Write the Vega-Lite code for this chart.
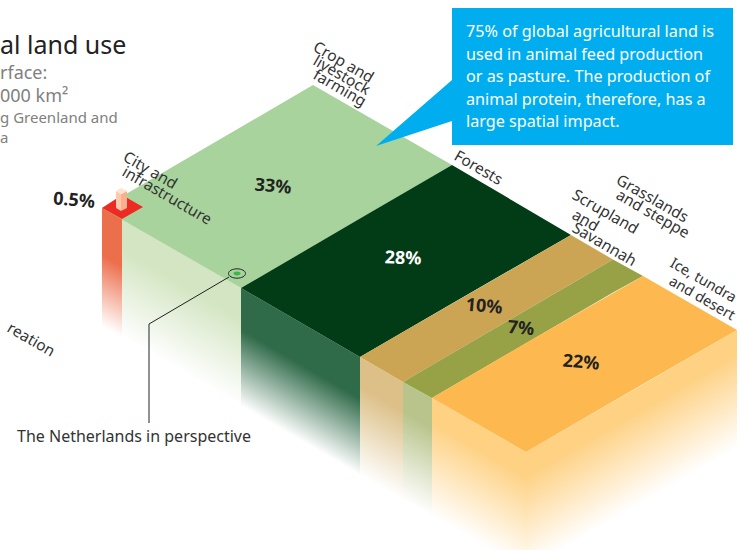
{
"$schema":"https://vega.github.io/schema/vega-lite/v6.json",
"width":741,"height":550,"padding":0,"autosize":{"type":"none"},
"background":"white",
"config":{"view":{"stroke":null}},
"datasets":{
"tops":[
{"part":"Crop and livestock farming","x":102,"y":208,"y2":208},
{"part":"Crop and livestock farming","x":241,"y":127,"y2":288},
{"part":"Crop and livestock farming","x":313,"y":85,"y2":246},
{"part":"Crop and livestock farming","x":452,"y":165,"y2":165},
{"part":"Forests","x":241,"y":288,"y2":288},
{"part":"Forests","x":360,"y":218.6,"y2":357},
{"part":"Forests","x":452,"y":165,"y2":303.4},
{"part":"Forests","x":571,"y":235,"y2":235},
{"part":"Scrupland and Savannah","x":360,"y":357,"y2":357},
{"part":"Scrupland and Savannah","x":403,"y":332,"y2":382},
{"part":"Scrupland and Savannah","x":571,"y":235,"y2":284},
{"part":"Scrupland and Savannah","x":613,"y":259.5,"y2":259.5},
{"part":"Grasslands and steppe","x":403,"y":382,"y2":382},
{"part":"Grasslands and steppe","x":432,"y":365,"y2":398},
{"part":"Grasslands and steppe","x":613,"y":259.5,"y2":292.5},
{"part":"Grasslands and steppe","x":643,"y":276,"y2":276},
{"part":"Ice, tundra and desert","x":432,"y":398,"y2":398},
{"part":"Ice, tundra and desert","x":526,"y":343,"y2":452},
{"part":"Ice, tundra and desert","x":643,"y":276,"y2":384},
{"part":"Ice, tundra and desert","x":737,"y":330,"y2":330},
{"part":"City and infrastructure","x":102,"y":208,"y2":208},
{"part":"City and infrastructure","x":122,"y":195,"y2":219},
{"part":"City and infrastructure","x":143,"y":207,"y2":207},
{"part":"Building left","x":116,"y":191,"y2":208},
{"part":"Building left","x":121,"y":194,"y2":211},
{"part":"Building right","x":121,"y":194,"y2":211},
{"part":"Building right","x":127,"y":191,"y2":208},
{"part":"Building roof","x":116,"y":191,"y2":191},
{"part":"Building roof","x":121,"y":188,"y2":194},
{"part":"Building roof","x":127,"y":191,"y2":191}
],
"sides":[
{"part":"City","x":102,"y":208,"y2":326},
{"part":"City","x":122,"y":219,"y2":337},
{"part":"Crop","x":122,"y":219,"y2":337},
{"part":"Crop","x":241,"y":288,"y2":406},
{"part":"Forests","x":241,"y":288,"y2":406},
{"part":"Forests","x":360,"y":357,"y2":475},
{"part":"Scrub","x":360,"y":357,"y2":475},
{"part":"Scrub","x":403,"y":382,"y2":500},
{"part":"Grass","x":403,"y":382,"y2":500},
{"part":"Grass","x":432,"y":398,"y2":516},
{"part":"IceLeft","x":432,"y":398,"y2":516},
{"part":"IceLeft","x":526,"y":452,"y2":570},
{"part":"IceRight","x":526,"y":452,"y2":570},
{"part":"IceRight","x":737,"y":330,"y2":448}
],
"bubble":[
{"x":376,"y":146,"y2":146},
{"x":452,"y":80,"y2":121},
{"x":452,"y":8,"y2":145},
{"x":733,"y":8,"y2":145}
],
"leader":[
{"step":1,"x":229,"y":277},
{"step":2,"x":149,"y":324},
{"step":3,"x":149,"y":423}
],
"marker":[{"x":237,"y":273.5}],
"titleA":[{"x":0,"y":54,"t":"al land use"}],
"titleB":[{"x":0,"y":79,"t":"rface:"},{"x":0,"y":102,"t":"000 km²"}],
"titleC":[{"x":0,"y":123,"t":"g Greenland and"},{"x":0,"y":143,"t":"a"}],
"bubbleText":[
{"x":466,"y":37,"t":"75% of global agricultural land is"},
{"x":466,"y":60,"t":"used in animal feed production"},
{"x":466,"y":82,"t":"or as pasture. The production of"},
{"x":466,"y":105,"t":"animal protein, therefore, has a"},
{"x":466,"y":127,"t":"large spatial impact."}
],
"labels":[
{"x":122,"y":160,"t":"City and"},
{"x":121,"y":175,"t":"infrastructure"},
{"x":312,"y":50,"t":"Crop and"},
{"x":312,"y":64,"t":"livestock"},
{"x":312,"y":78,"t":"farming"},
{"x":453,"y":159,"t":"Forests"},
{"x":615,"y":183,"t":"Grasslands"},
{"x":615,"y":198,"t":"and steppe"},
{"x":571,"y":198,"t":"Scrupland"},
{"x":571,"y":218,"t":"and"},
{"x":571,"y":231,"t":"Savannah"},
{"x":6,"y":331,"t":"reation"}
],
"labelsEdge":[
{"x":669,"y":266,"t":"Ice, tundra"},
{"x":668,"y":284,"t":"and desert"}
],
"shares":[
{"x":74,"y":201,"t":"0.5%"},
{"x":273,"y":187,"t":"33%"},
{"x":484,"y":307,"t":"10%"},
{"x":521,"y":329,"t":"7%"},
{"x":581,"y":363,"t":"22%"}
],
"sharesLight":[{"x":403,"y":259,"t":"28%"}],
"note":[{"x":17,"y":442,"t":"The Netherlands in perspective"}]
},
"encoding":{
"x":{"field":"x","type":"quantitative","scale":{"domain":[0,741],"nice":false,"zero":false},"axis":null},
"y":{"field":"y","type":"quantitative","stack":null,"scale":{"domain":[550,0],"nice":false,"zero":false},"axis":null}
},
"layer":[
{"data":{"name":"sides"},"transform":[{"filter":"datum.part==='City'"}],
 "mark":{"type":"area","clip":true,"color":{"gradient":"linear","x1":0,"y1":0,"x2":-0.077,"y2":0.909,"stops":[{"offset":0,"color":"#ec6f4c"},{"offset":0.4,"color":"#ec6f4c"},{"offset":1,"color":"#ffffff"}]}},
 "encoding":{"y2":{"field":"y2"}}},
{"data":{"name":"sides"},"transform":[{"filter":"datum.part==='Crop'"}],
 "mark":{"type":"area","clip":true,"color":{"gradient":"linear","x1":0,"y1":0,"x2":-0.205,"y2":0.555,"stops":[{"offset":0,"color":"#d3e5c2"},{"offset":0.25,"color":"#d3e5c2"},{"offset":1,"color":"#ffffff"}]}},
 "encoding":{"y2":{"field":"y2"}}},
{"data":{"name":"sides"},"transform":[{"filter":"datum.part==='Forests'"}],
 "mark":{"type":"area","clip":true,"color":{"gradient":"linear","x1":0,"y1":0,"x2":-0.205,"y2":0.555,"stops":[{"offset":0,"color":"#2f6a49"},{"offset":0.35,"color":"#2f6a49"},{"offset":1,"color":"#ffffff"}]}},
 "encoding":{"y2":{"field":"y2"}}},
{"data":{"name":"sides"},"transform":[{"filter":"datum.part==='Scrub'"}],
 "mark":{"type":"area","clip":true,"color":{"gradient":"linear","x1":0,"y1":0,"x2":-0.14,"y2":0.8,"stops":[{"offset":0,"color":"#dcc088"},{"offset":0.25,"color":"#dcc088"},{"offset":1,"color":"#ffffff"}]}},
 "encoding":{"y2":{"field":"y2"}}},
{"data":{"name":"sides"},"transform":[{"filter":"datum.part==='Grass'"}],
 "mark":{"type":"area","clip":true,"color":{"gradient":"linear","x1":0,"y1":0,"x2":-0.103,"y2":0.869,"stops":[{"offset":0,"color":"#b8c48c"},{"offset":0.25,"color":"#b8c48c"},{"offset":1,"color":"#ffffff"}]}},
 "encoding":{"y2":{"field":"y2"}}},
{"data":{"name":"sides"},"transform":[{"filter":"datum.part==='IceLeft'"}],
 "mark":{"type":"area","clip":true,"color":{"gradient":"linear","x1":0,"y1":0,"x2":-0.196,"y2":0.624,"stops":[{"offset":0,"color":"#fed183"},{"offset":0.2,"color":"#fed183"},{"offset":1,"color":"#ffffff"}]}},
 "encoding":{"y2":{"field":"y2"}}},
{"data":{"name":"sides"},"transform":[{"filter":"datum.part==='IceRight'"}],
 "mark":{"type":"area","clip":true,"color":{"gradient":"linear","x1":0,"y1":0.508,"x2":0.199,"y2":0.899,"stops":[{"offset":0,"color":"#fed183"},{"offset":0.2,"color":"#fed183"},{"offset":1,"color":"#ffffff"}]}},
 "encoding":{"y2":{"field":"y2"}}},
{"data":{"name":"tops"},
 "mark":{"type":"area"},
 "encoding":{"y2":{"field":"y2"},
  "color":{"field":"part","type":"nominal","legend":null,"sort":null,"scale":{
   "domain":["Crop and livestock farming","Forests","Scrupland and Savannah","Grasslands and steppe","Ice, tundra and desert","City and infrastructure","Building left","Building right","Building roof"],
   "range":["#a8d39c","#023c17","#cca554","#97a145","#fdb94f","#ee2a24","#fcc9ab","#f8b08e","#fde3d3"]}}}},
{"data":{"name":"bubble"},"mark":{"type":"area","color":"#00aeef"},"encoding":{"y2":{"field":"y2"}}},
{"data":{"name":"leader"},"mark":{"type":"line","color":"#222222","strokeWidth":1},"encoding":{"order":{"field":"step","type":"ordinal"}}},
{"data":{"name":"marker"},"mark":{"type":"point","filled":true,"fill":"#a8d39c","stroke":"#222222","strokeWidth":1,"opacity":1,"size":289,"shape":"M-1,0A1,0.55,0,1,1,1,0A1,0.55,0,1,1,-1,0Z"}},
{"data":{"name":"marker"},"mark":{"type":"point","filled":true,"fill":"#3cb54a","strokeWidth":0,"opacity":1,"size":49,"shape":"M-1,0A1,0.55,0,1,1,1,0A1,0.55,0,1,1,-1,0Z"}},
{"data":{"name":"titleA"},"mark":{"type":"text","align":"left","baseline":"alphabetic","font":"Noto Sans","fontSize":25,"color":"#222222"},"encoding":{"text":{"field":"t"}}},
{"data":{"name":"titleB"},"mark":{"type":"text","align":"left","baseline":"alphabetic","font":"Noto Sans","fontSize":18,"color":"#808080"},"encoding":{"text":{"field":"t"}}},
{"data":{"name":"titleC"},"mark":{"type":"text","align":"left","baseline":"alphabetic","font":"Noto Sans","fontSize":15,"color":"#808080"},"encoding":{"text":{"field":"t"}}},
{"data":{"name":"bubbleText"},"mark":{"type":"text","align":"left","baseline":"alphabetic","font":"Noto Sans","fontSize":16.2,"color":"#ffffff"},"encoding":{"text":{"field":"t"}}},
{"data":{"name":"labels"},"mark":{"type":"text","align":"left","baseline":"alphabetic","font":"Noto Sans","fontSize":15.5,"angle":30,"color":"#333333"},"encoding":{"text":{"field":"t"}}},
{"data":{"name":"labelsEdge"},"mark":{"type":"text","align":"left","baseline":"alphabetic","font":"Noto Sans","fontSize":14.5,"angle":30,"color":"#333333"},"encoding":{"text":{"field":"t"}}},
{"data":{"name":"shares"},"mark":{"type":"text","align":"center","baseline":"middle","font":"Noto Sans","fontWeight":"bold","fontSize":18,"angle":5,"color":"#222222"},"encoding":{"text":{"field":"t"}}},
{"data":{"name":"sharesLight"},"mark":{"type":"text","align":"center","baseline":"middle","font":"Noto Sans","fontWeight":"bold","fontSize":18,"angle":2,"color":"#ffffff"},"encoding":{"text":{"field":"t"}}},
{"data":{"name":"note"},"mark":{"type":"text","align":"left","baseline":"alphabetic","font":"Noto Sans","fontSize":16,"color":"#333333"},"encoding":{"text":{"field":"t"}}}
]
}
